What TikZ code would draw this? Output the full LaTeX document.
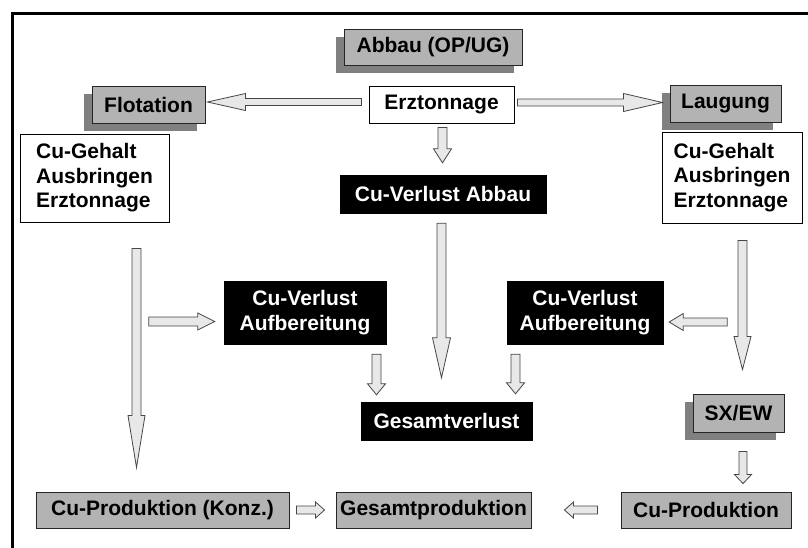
\documentclass[tikz,border=0pt]{standalone}
\usepackage{fontspec}
\setmainfont{Liberation Sans}
\usetikzlibrary{calc,shadows}
\definecolor{boxgray}{RGB}{179,179,179}
\definecolor{shadowgray}{RGB}{128,128,128}
\definecolor{arrfill}{RGB}{232,232,232}
\definecolor{arrline}{RGB}{70,70,70}
\newcommand\blockarr[6]{%
  \coordinate (ba-hb) at ($(#2)!#5pt!(#1)$);
  \draw[#6] ($(#1)!#3pt!90:(#2)$) -- ($(ba-hb)!#3pt!-90:(#1)$) -- ($(ba-hb)!#4pt!-90:(#1)$) -- (#2) -- ($(ba-hb)!#4pt!90:(#1)$) -- ($(ba-hb)!#3pt!90:(#1)$) -- ($(#1)!#3pt!-90:(#2)$) -- cycle;}
\tikzset{
  txt/.style={font=\fontsize{21}{24.5}\selectfont\bfseries, inner sep=0pt, align=center},
  gbox/.style={txt, draw=black!85, line width=0.9pt, fill=boxgray, text=black},
  shad/.style={drop shadow={shadow xshift=-8pt, shadow yshift=-8pt, fill=shadowgray, opacity=1}},
  wbox/.style={txt, draw=black, line width=0.9pt, fill=white, text=black},
  bbox/.style={txt, draw=black, fill=black, text=white},
  barr/.style={draw=arrline, line width=0.8pt, fill=arrfill, line join=miter},
}
\begin{document}
\begin{tikzpicture}[x=1pt,y=-1pt]
\useasboundingbox (0,0) rectangle (808,547);
\fill[white] (0,0) rectangle (808,547);
% frame
\draw[line width=3pt] (12,549) -- (12,13.5) -- (810,13.5);
% nodes
\node[gbox, shad, minimum width=178pt, minimum height=36pt] (abbau) at (433,47) {Abbau (OP/UG)};
\node[wbox, minimum width=145pt, minimum height=37pt] (erz) at (441.5,104.5) {Erztonnage};
\node[gbox, shad, minimum width=113pt, minimum height=37pt] (flot) at (148.5,104.5) {Flotation};
\node[gbox, shad, minimum width=111pt, minimum height=37pt] (laug) at (725.5,103.5) {Laugung};
\node[wbox, align=left, minimum width=149pt, minimum height=88pt] (cgL) at (94.5,178) {Cu-Gehalt\\Ausbringen\\Erztonnage};
\node[wbox, align=left, minimum width=140pt, minimum height=91pt] (cgR) at (732,177.5) {Cu-Gehalt\\Ausbringen\\Erztonnage};
\node[bbox, minimum width=206pt, minimum height=38pt] (vabb) at (443,194) {Cu-Verlust Abbau};
\node[bbox, minimum width=162pt, minimum height=63pt] (vaL) at (305,312.5) {Cu-Verlust\\Aufbereitung};
\node[bbox, minimum width=156pt, minimum height=63pt] (vaR) at (585,312.5) {Cu-Verlust\\Aufbereitung};
\node[bbox, minimum width=171pt, minimum height=38pt] (gv) at (446.5,421) {Gesamtverlust};
\node[gbox, shad, minimum width=91pt, minimum height=38pt] (sx) at (738.5,413) {SX/EW};
\node[gbox, minimum width=253pt, minimum height=36pt] (pk) at (162.5,510) {Cu-Produktion (Konz.)};
\node[gbox, minimum width=195pt, minimum height=36pt] (gp) at (433.5,510) {Gesamtproduktion};
\node[gbox, minimum width=170pt, minimum height=36pt] (cp) at (706,510) {Cu-Produktion};
% arrow end points
\coordinate (a1) at ($(erz.west)+(-7,-2.5)$);   \coordinate (a2) at ($(flot.east)+(2,-2.5)$);
\coordinate (b1) at ($(erz.east)+(3,-2)$);      \coordinate (b2) at ($(laug.west)+(-7,-1)$);
\coordinate (c1) at ($(erz.south)+(1,4)$);      \coordinate (c2) at ($(vabb.north)+(-0.5,-12)$);
\coordinate (d1) at ($(vabb.south)+(-1.5,10)$); \coordinate (d2) at ($(gv.north)+(-5,-24)$);
\coordinate (e1) at ($(cgL.south)+(42,26)$);    \coordinate (e2) at ($(pk.north)+(-26,-24)$);
\coordinate (f1) at ($(vaL.west)+(-75,9)$);     \coordinate (f2) at ($(vaL.west)+(-9,9)$);
\coordinate (g1) at ($(vaL.south)+(71.5,10)$);  \coordinate (g2) at ($(gv.north)+(-70,-7)$);
\coordinate (h1) at ($(vaR.south)+(-69.5,10)$); \coordinate (h2) at ($(gv.north)+(69,-8)$);
\coordinate (i1) at ($(cgR.south)+(10.5,17)$);  \coordinate (i2) at ($(sx.north)+(4,-24)$);
\coordinate (j1) at ($(vaR.east)+(64,9.5)$);    \coordinate (j2) at ($(vaR.east)+(6,9.5)$);
\coordinate (k1) at ($(sx.south)+(4.5,19)$);    \coordinate (k2) at ($(cp.north)+(37,-8)$);
\coordinate (l1) at ($(pk.east)+(7,0)$);        \coordinate (l2) at ($(gp.west)+(-11,0)$);
\coordinate (m1) at ($(cp.west)+(-23,0)$);      \coordinate (m2) at ($(gp.east)+(33,0)$);
% block arrows
\blockarr{a1}{a2}{3.5}{8.5}{38}{barr}
\blockarr{b1}{b2}{3.5}{9}{39}{barr}
\blockarr{c1}{c2}{4.5}{9}{14}{barr}
\blockarr{d1}{d2}{4.5}{9}{40}{barr}
\blockarr{e1}{e2}{4.5}{8.5}{52}{barr}
\blockarr{f1}{f2}{4.5}{8.5}{17}{barr}
\blockarr{g1}{g2}{4.5}{9}{11}{barr}
\blockarr{h1}{h2}{4.5}{9}{11}{barr}
\blockarr{i1}{i2}{4.5}{8.5}{33}{barr}
\blockarr{j1}{j2}{4}{8.5}{14}{barr}
\blockarr{k1}{k2}{4}{8.5}{9}{barr}
\blockarr{l1}{l2}{4}{8}{9}{barr}
\blockarr{m1}{m2}{4}{8}{9}{barr}
\end{tikzpicture}
\end{document}
